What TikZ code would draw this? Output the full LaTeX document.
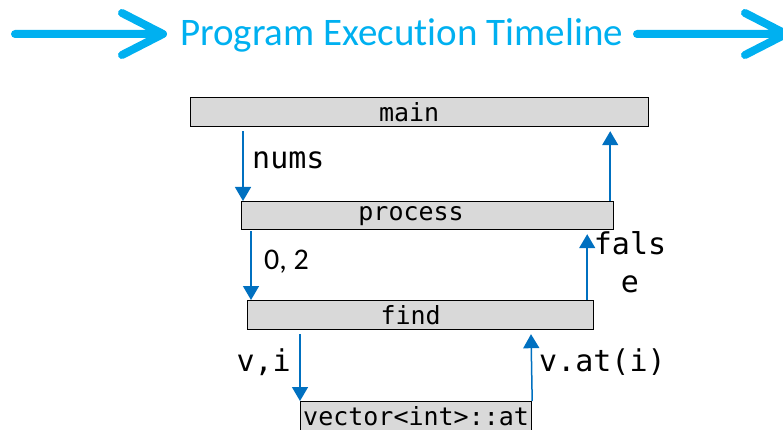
\documentclass[tikz,border=0pt]{standalone}
\usepackage{fontspec}
\setmonofont{DejaVu Sans Mono}
\newfontfamily\calib[Ligatures=NoCommon]{Carlito}
\usetikzlibrary{arrows.meta,positioning}
\definecolor{titreC}{HTML}{00B0F0}
\definecolor{appelC}{HTML}{0070C0}
\definecolor{boiteC}{HTML}{D9D9D9}
\tikzset{
  appel/.style={rectangle, draw=black, line width=1.2pt, fill=boiteC, inner sep=0pt,
                minimum height=28pt, anchor=north west, font=\fontsize{25}{25}\selectfont\ttfamily},
  arr/.style={-{Triangle[length=14pt,width=16pt]}, line width=1.5pt, draw=appelC},
  lab/.style={font=\fontsize{30}{38}\selectfont\ttfamily, inner sep=0pt, align=center},
  bigarr/.style={line width=8pt, draw=titreC, line cap=round, line join=round},
}

\begin{document}
\begin{tikzpicture}[x=1pt, y=-1pt]
    \useasboundingbox (0,0) rectangle (783,430);
    % titre
    \node[font=\calib\fontsize{39}{39}\selectfont, text=titreC, inner sep=0pt] (titre) at (401.5,35)
      {Program Execution Timeline};
    \draw[bigarr] (15,34) -- (163,34) (122,13) -- (163,34) -- (122,55);
    \draw[bigarr] (637,34) -- (786,34) (745,13) -- (786,34) -- (745,55);
    % pile d'appels
    \node[appel, minimum width=458pt, minimum height=29pt] (main) at (190,97) {main\hspace*{21pt}};
    \node[appel, minimum width=372pt] (process) at (241,201) {process\hspace*{33pt}};
    \node[appel, minimum width=346pt, minimum height=29pt] (find) at (247,300) {find\hspace*{20pt}};
    \node[appel, minimum width=231pt, minimum height=29pt] (vec) at (300,401) {vector<int>::at};
    \draw[arr] ([xshift=53pt,yshift=-4pt]main.south west) -- ([xshift=2pt]process.north west);
    \draw[arr] ([xshift=-4pt]process.north east) -- ([xshift=-39pt,yshift=-4pt]main.south east);
    \draw[arr] ([xshift=10pt,yshift=-1pt]process.south west) -- ([xshift=4pt]find.north west);
    \draw[arr] ([xshift=-7pt]find.north east) -- ([xshift=-27pt,yshift=-4pt]process.south east);
    \draw[arr] ([xshift=53pt,yshift=-4pt]find.south west) -- (vec.north west);
    \draw[arr] (vec.north east) -- ([xshift=284pt,yshift=-4pt]find.south west);
    % valeurs
    \node[lab, anchor=west] (nums) at (252,160) {nums};
    \node[lab, anchor=west, font=\calib\fontsize{30}{30}\selectfont] (args) at (264,262) {0, 2};
    \node[lab] (faux) at (630,262) {fals\\e};
    \node[lab, anchor=east] (vi) at (291,362) {v,i};
    \node[lab, anchor=west] (res) at (539,362) {v.at(i)};
\end{tikzpicture}
\end{document}
